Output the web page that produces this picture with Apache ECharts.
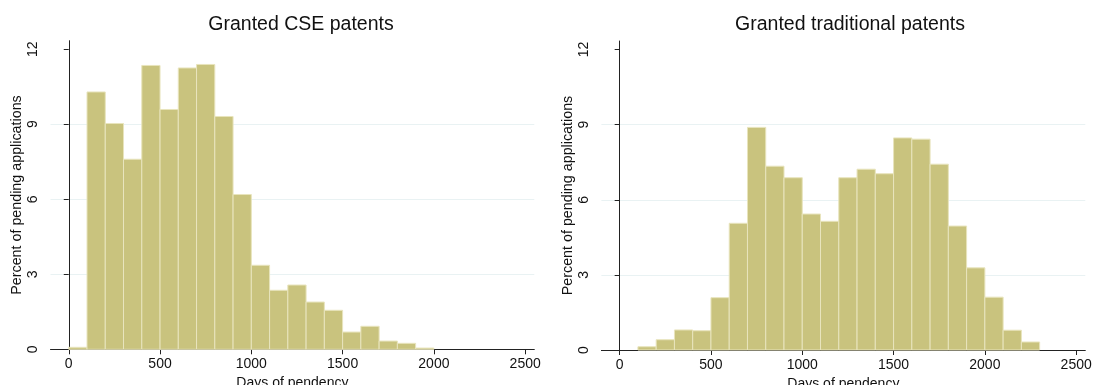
<!DOCTYPE html>
<html>
<head>
<meta charset="utf-8">
<script src="https://cdn.jsdelivr.net/npm/echarts@6/dist/echarts.min.js"></script>
<style>
  html, body { margin: 0; padding: 0; background: #fff; }
  #chart { width: 1095px; height: 385px; }
</style>
</head>
<body>
<div id="chart"></div>
<script>
// Histogram bins: 100-day bins starting at 0 days
const binWidth = 100;
const binStarts = [0, 100, 200, 300, 400, 500, 600, 700, 800, 900, 1000, 1100,
  1200, 1300, 1400, 1500, 1600, 1700, 1800, 1900, 2000, 2100, 2200];

// Percent of pending applications per bin
const csePercent = [0.08, 10.29, 9.03, 7.6, 11.35, 9.59, 11.25, 11.39, 9.31, 6.19,
  3.36, 2.36, 2.57, 1.89, 1.56, 0.69, 0.92, 0.33, 0.24, 0.05, 0, 0, 0];
const traditionalPercent = [0, 0.13, 0.41, 0.8, 0.77, 2.09, 5.06, 8.89, 7.34, 6.88,
  5.43, 5.14, 6.88, 7.22, 7.04, 8.47, 8.42, 7.42, 4.95, 3.28, 2.11, 0.79, 0.32];

const panelTitles = ['Granted CSE patents', 'Granted traditional patents'];
const xTicks = [0, 500, 1000, 1500, 2000, 2500];
const yTicks = [0, 3, 6, 9, 12];
const xName = 'Days of pendency';
const yName = 'Percent of pending applications';

const FONT = '"Liberation Sans", Arial, Helvetica, sans-serif';
const BAR_FILL = '#c9c37e';
const BAR_EDGE = '#e8e4bd';
const AXIS_COLOR = '#222';
const GRID_COLOR = '#e9f2f3';

function binData(values) {
  return binStarts
    .map((s, i) => [s, s + binWidth, values[i]])
    .filter(d => d[2] > 0);
}

function renderBin(params, api) {
  const topLeft = api.coord([api.value(0), api.value(2)]);
  const bottomRight = api.coord([api.value(1), 0]);
  return {
    type: 'rect',
    shape: {
      x: topLeft[0],
      y: topLeft[1],
      width: bottomRight[0] - topLeft[0],
      height: bottomRight[1] - topLeft[1]
    },
    style: { fill: BAR_FILL, stroke: BAR_EDGE, lineWidth: 1 }
  };
}

const plainNumber = v => String(v);

function xAxisFor(gridIndex) {
  return {
    type: 'value',
    gridIndex,
    min: -100,
    max: 2550,
    name: xName,
    nameLocation: 'middle',
    nameGap: 22,
    nameTextStyle: { fontFamily: FONT, fontSize: 14, color: '#111' },
    axisLine: { show: true, lineStyle: { color: AXIS_COLOR, width: 1 } },
    axisTick: { show: true, length: 5, customValues: xTicks, lineStyle: { color: AXIS_COLOR } },
    axisLabel: { customValues: xTicks, formatter: plainNumber, margin: 8,
      fontFamily: FONT, fontSize: 14, color: '#111' },
    splitLine: { show: false }
  };
}

function yAxisFor(gridIndex) {
  return {
    type: 'value',
    gridIndex,
    min: 0,
    max: 12.34,
    name: yName,
    nameLocation: 'middle',
    nameRotate: 90,
    nameGap: 26,
    nameTextStyle: { fontFamily: FONT, fontSize: 14.3, color: '#111' },
    axisLine: { show: true, lineStyle: { color: AXIS_COLOR, width: 1 } },
    axisTick: { show: true, length: 5, customValues: yTicks, lineStyle: { color: AXIS_COLOR } },
    axisLabel: { customValues: yTicks, formatter: plainNumber, rotate: 90, margin: 10,
      fontFamily: FONT, fontSize: 14, color: '#111' },
    splitLine: { show: true, customValues: yTicks, showMinLine: false, showMaxLine: false,
      lineStyle: { color: GRID_COLOR, width: 1 } }
  };
}

const chart = echarts.init(document.getElementById('chart'), null, { renderer: 'canvas' });

const titleStyle = { fontFamily: FONT, fontSize: 19.5, fontWeight: 'normal', color: '#111' };

chart.setOption({
  backgroundColor: '#ffffff',
  animation: false,
  title: [
    { text: panelTitles[0], left: 301, top: 15, textAlign: 'center', padding: 0, textStyle: titleStyle },
    { text: panelTitles[1], left: 850, top: 15, textAlign: 'center', padding: 0, textStyle: titleStyle }
  ],
  grid: [
    { left: 50.5, right: 1095 - 534.3, top: 40.7, bottom: 385 - 349.3,
      containLabel: false, outerBoundsMode: 'none' },
    { left: 601.4, right: 1095 - 1085.3, top: 41, bottom: 385 - 350,
      containLabel: false, outerBoundsMode: 'none' }
  ],
  xAxis: [xAxisFor(0), xAxisFor(1)],
  yAxis: [yAxisFor(0), yAxisFor(1)],
  series: [
    { type: 'custom', name: panelTitles[0], xAxisIndex: 0, yAxisIndex: 0,
      encode: { x: [0, 1], y: 2 }, renderItem: renderBin, data: binData(csePercent) },
    { type: 'custom', name: panelTitles[1], xAxisIndex: 1, yAxisIndex: 1,
      encode: { x: [0, 1], y: 2 }, renderItem: renderBin, data: binData(traditionalPercent) }
  ]
});
</script>
</body>
</html>
